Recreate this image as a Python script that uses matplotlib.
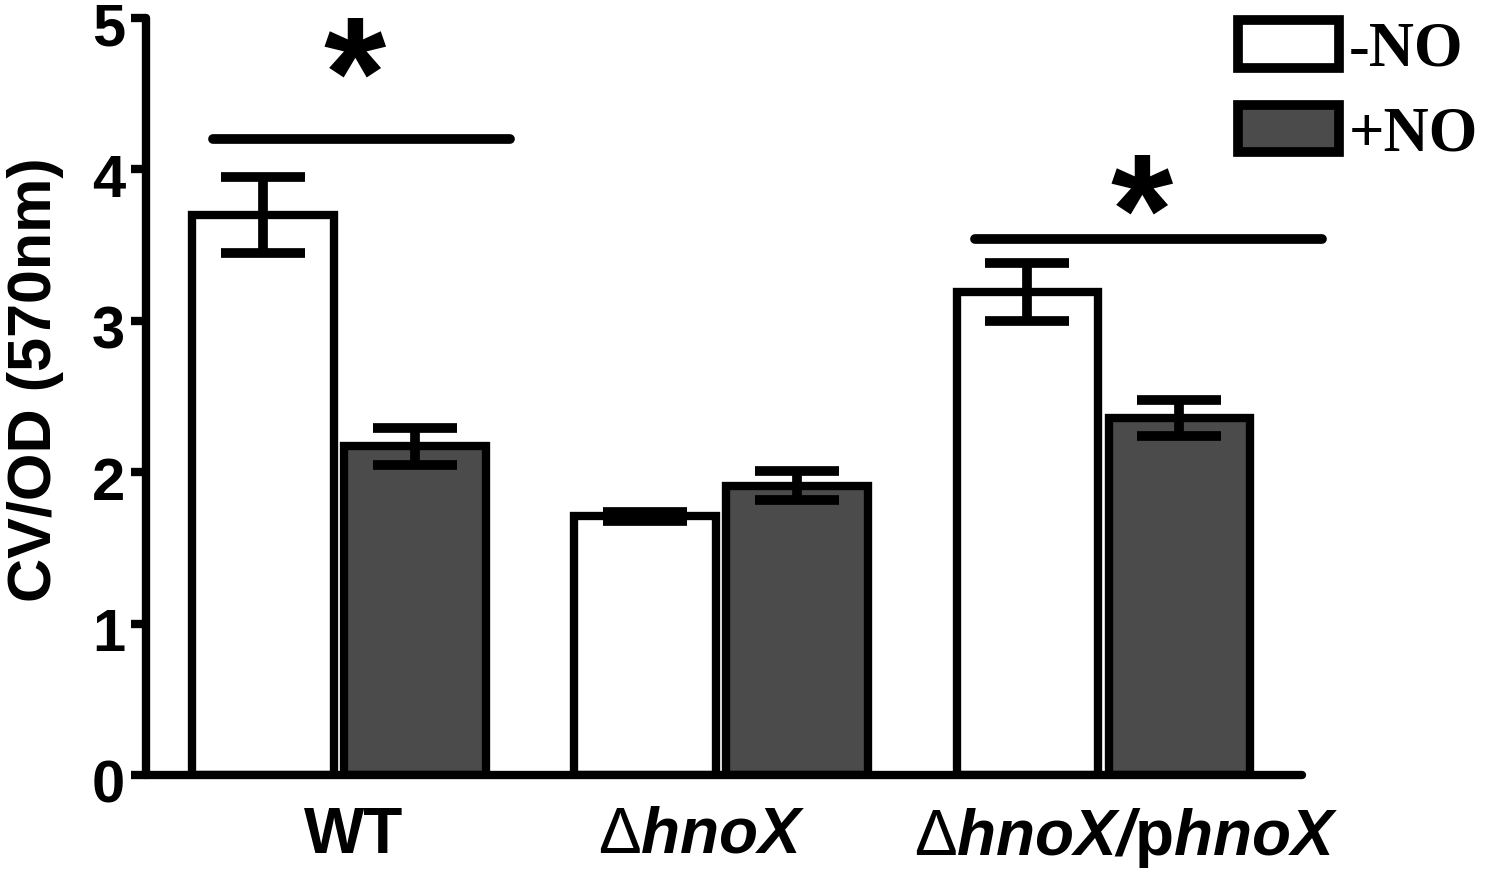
import matplotlib
matplotlib.use("Agg")
import matplotlib.pyplot as plt
import matplotlib.transforms as mtransforms
import numpy as np

plt.rcParams['font.family'] = ['Liberation Sans', 'DejaVu Sans']
plt.rcParams['font.weight'] = 'bold'
plt.rcParams['mathtext.fontset'] = 'custom'
plt.rcParams['mathtext.rm'] = 'Liberation Sans:weight=normal'
plt.rcParams['mathtext.bf'] = 'Liberation Sans:bold'
plt.rcParams['mathtext.bfit'] = 'Liberation Sans:bold:italic'
plt.rcParams['mathtext.it'] = 'Liberation Sans:italic'

groups = ['WT', r'$\Delta\mathbfit{hnoX}$', r'$\Delta\mathbfit{hnoX/}\mathbf{p}\mathbfit{hnoX}$']
minus_no = [3.70, 1.71, 3.19]
minus_err = [0.25, 0.03, 0.19]
plus_no = [2.17, 1.91, 2.36]
plus_err = [0.12, 0.095, 0.12]

lw = 6
x = np.arange(len(groups))
w = 0.37
off = 0.199

fig = plt.figure(figsize=(15, 8.74), dpi=100)
ax = fig.add_axes([0.0973, 0.1133, 0.868 - 0.0973, 0.9794 - 0.1133])

b1 = ax.bar(x - off, minus_no, w, color='white', edgecolor='black', linewidth=lw, label='-NO', zorder=2)
b2 = ax.bar(x + off, plus_no, w, color='#4b4b4b', edgecolor='black', linewidth=lw, label='+NO', zorder=2)
ax.errorbar(x - off, minus_no, yerr=minus_err, fmt='none', ecolor='black', elinewidth=7, capsize=30, capthick=7, zorder=3)
ax.errorbar(x + off, plus_no, yerr=plus_err, fmt='none', ecolor='black', elinewidth=7, capsize=30, capthick=7, zorder=3)

# significance bars
ax.plot([-0.33, 0.448], [4.20, 4.20], color='black', lw=7, solid_capstyle='round', clip_on=False)
ax.plot([1.665, 2.573], [3.54, 3.54], color='black', lw=7, solid_capstyle='round', clip_on=False)
ax.text(0.04, 4.275, '*', fontsize=115, ha='center', va='baseline', fontweight='bold')
ax.text(2.10, 3.37, '*', fontsize=115, ha='center', va='baseline', fontweight='bold')

ax.set_xlim(-0.505, 2.52)
ax.set_ylim(0, 5)
ax.set_yticks([0, 1, 2, 3, 4, 5])
ax.set_xticks([0.037, 0.95, 2.06])
ax.set_xticklabels(groups)
ax.tick_params(axis='y', labelsize=43, width=lw, length=11, pad=4)
ax.tick_params(axis='x', labelsize=46, length=0, pad=22)
shift = mtransforms.ScaledTranslation(0, -6 / 100, fig.dpi_scale_trans)
for lab in ax.get_yticklabels():
    lab.set_transform(lab.get_transform() + shift)
for s in ['top', 'right']:
    ax.spines[s].set_visible(False)
for s in ['left', 'bottom']:
    ax.spines[s].set_linewidth(lw)
    ax.spines[s].set_capstyle('round')
ax.set_ylabel('CV/OD (570nm)', fontsize=44, fontweight='bold')
ax.yaxis.set_label_coords(-0.071, 0.522)

leg = fig.legend(handles=[b1, b2], loc='upper left', bbox_to_anchor=(1238 / 1500, 1 - 20 / 874),
                 frameon=False, prop={'family': 'Liberation Serif', 'size': 45},
                 handlelength=1.62, handleheight=0.8, handletextpad=0.15, labelspacing=0.4,
                 borderpad=0, borderaxespad=0)
for p in leg.get_patches():
    p.set_linewidth(7)

fig.savefig('out.png', dpi=100)
